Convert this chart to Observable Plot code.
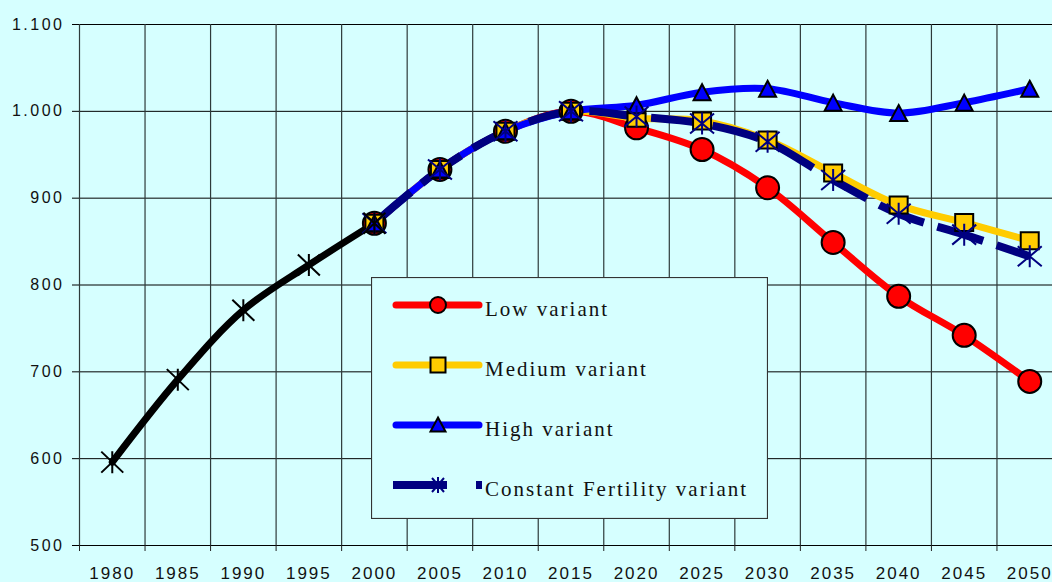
<!DOCTYPE html>
<html><head><meta charset="utf-8">
<script src="https://cdn.jsdelivr.net/npm/d3@7"></script>
<script src="https://cdn.jsdelivr.net/npm/@observablehq/plot@0.6"></script>
<style>
html,body{margin:0;padding:0;background:#d6ffff;overflow:hidden;width:1052px;height:582px}
#chart{position:absolute;left:0;top:0;width:1062px}
#chart svg{max-width:none !important;width:1062px;height:582px}
#legend{position:absolute;left:371px;top:277px}
g[aria-label="y-axis tick label"] text{letter-spacing:2.5px;font-size:16px}
g[aria-label="x-axis tick label"] text{letter-spacing:2px;font-size:17px}
</style></head><body>
<div id="chart"></div>
<svg id="legend" width="397" height="242"></svg>
<script>
// ---- data ----
const years = [1980,1985,1990,1995,2000,2005,2010,2015,2020,2025,2030,2035,2040,2045,2050];
const historicYears = [1980,1985,1990,1995,2000];
const historic = [596,691,771,823,871];
const projYears = [2000,2005,2010,2015,2020,2025,2030,2035,2040,2045,2050];
const lowVariant = [871,933,977,1000,981,956,912,849,787,742,689];
const mediumVariant = [871,933,977,1000,992,989,967,929,892,872,851];
const highVariant = [871,933,977,1000,1007,1022,1026,1010,998,1010,1026];
const constantVariant = [871,933,977,1000,994,986,965,921,882,858,833];
const yTicks = [500,600,700,800,900,1000,1100];
const seriesNames = ["Low variant","Medium variant","High variant","Constant Fertility variant"];

const colors = {low:"#ff0000", medium:"#ffcc00", high:"#0000ff", constant:"#000080", hist:"#000000"};
const bg = "#d6ffff";

// x category boundaries (grid lines)
const boundaries = years.map(y => y - 2.5);

const hist = historicYears.map((x,i)=>({x, y:historic[i]}));
const mk = arr => projYears.map((x,i)=>({x, y:arr[i]}));
const low = mk(lowVariant), med = mk(mediumVariant), high = mk(highVariant), cons = mk(constantVariant);

// custom symbols
const starSym = (hx, hy, hv) => ({draw(ctx){ctx.moveTo(-hx,-hy);ctx.lineTo(hx,hy);ctx.moveTo(-hx,hy);ctx.lineTo(hx,-hy);ctx.moveTo(0,-hv);ctx.lineTo(0,hv);}});
const squareSym = {draw(ctx){ctx.moveTo(-9,-8.5);ctx.lineTo(9,-8.5);ctx.lineTo(9,8.5);ctx.lineTo(-9,8.5);ctx.closePath();}};
const triSym = {draw(ctx){ctx.moveTo(0,-8);ctx.lineTo(8.5,8);ctx.lineTo(-8.5,8);ctx.closePath();}};
const histStar = starSym(11,10.5,11);
const consStar = starSym(12,10,11);

const fmtY = d => d >= 1000 ? d3.format(",")(d).replace(",", ".") : String(d);

const chart = Plot.plot({
  width: 1062, height: 582,
  marginLeft: 79, marginRight: 0, marginTop: 24, marginBottom: 37,
  x: {type: "linear", domain: [1977.5, 2052.5]},
  y: {domain: [500, 1100]},
  style: {background: "transparent", fontFamily: "'Liberation Sans', Arial, sans-serif", fontSize: "16px", color: "#111", overflow: "visible", maxWidth: "none"},
  marks: [
    Plot.gridY(yTicks, {stroke: "#000", strokeOpacity: 1, strokeWidth: 1}),
    Plot.gridX(boundaries, {stroke: "#2e3a3a", strokeOpacity: 1, strokeWidth: 1.2}),
    Plot.axisY(yTicks, {tickSize: 7, tickPadding: 8, tickFormat: fmtY, label: null, stroke: "#000"}),
    Plot.axisX(boundaries, {tickSize: 6, tickFormat: () => "", label: null, stroke: "#222"}),
    Plot.axisX(years, {tickSize: 0, tickPadding: 21, tickFormat: d3.format("d"), label: null}),
    Plot.line(hist, {x: "x", y: "y", stroke: colors.hist, strokeWidth: 7, curve: "catmull-rom"}),
    Plot.line(low, {x: "x", y: "y", stroke: colors.low, strokeWidth: 7, curve: "catmull-rom"}),
    Plot.line(med, {x: "x", y: "y", stroke: colors.medium, strokeWidth: 7, curve: "catmull-rom"}),
    Plot.line(high, {x: "x", y: "y", stroke: colors.high, strokeWidth: 7, curve: "catmull-rom"}),
    Plot.line(cons, {x: "x", y: "y", stroke: colors.constant, strokeWidth: 8, strokeLinecap: "butt", strokeDasharray: "48,14", curve: "catmull-rom"}),
    Plot.dot(low, {x: "x", y: "y", r: 11.5, fill: colors.low, stroke: "#000", strokeWidth: 2}),
    Plot.dot(med, {x: "x", y: "y", symbol: squareSym, r: 9, fill: colors.medium, stroke: "#000", strokeWidth: 2}),
    Plot.dot(high, {x: "x", y: "y", symbol: triSym, r: 9, fill: colors.high, stroke: "#000", strokeWidth: 2}),
    Plot.dot(cons, {x: "x", y: "y", symbol: consStar, r: 11, fill: "none", stroke: colors.constant, strokeWidth: 2}),
    Plot.dot(hist, {x: "x", y: "y", symbol: histStar, r: 11, fill: "none", stroke: "#000", strokeWidth: 2})
  ]
});
document.getElementById("chart").append(chart);

// ---- legend ----
const lg = d3.select("#legend");
lg.append("rect").attr("x", 0.5).attr("y", 0.5).attr("width", 396).attr("height", 241)
  .attr("fill", bg).attr("stroke", "#333").attr("stroke-width", 1.2);
const rowsY = [28, 88, 148, 208];
const legendSpec = [
  {name: seriesNames[0], color: colors.low, shape: "circle"},
  {name: seriesNames[1], color: colors.medium, shape: "square"},
  {name: seriesNames[2], color: colors.high, shape: "triangle"},
  {name: seriesNames[3], color: colors.constant, shape: "star"}
];
const pathOf = sym => { const p = d3.path(); sym.draw(p); return p.toString(); };
legendSpec.forEach((s, i) => {
  const cy = rowsY[i];
  const g = lg.append("g");
  if (s.shape === "star") {
    g.append("line").attr("x1", 22).attr("x2", 111).attr("y1", cy).attr("y2", cy)
      .attr("stroke", s.color).attr("stroke-width", 8).attr("stroke-dasharray", "54,29");
    g.append("path").attr("d", pathOf(starSym(6,7,8))).attr("transform", `translate(67,${cy})`)
      .attr("fill", "none").attr("stroke", s.color).attr("stroke-width", 2);
  } else {
    g.append("line").attr("x1", 25).attr("x2", 108).attr("y1", cy).attr("y2", cy)
      .attr("stroke", s.color).attr("stroke-width", 7).attr("stroke-linecap", "round");
    if (s.shape === "circle") {
      g.append("circle").attr("cx", 67).attr("cy", cy).attr("r", 8)
        .attr("fill", s.color).attr("stroke", "#000").attr("stroke-width", 2);
    } else if (s.shape === "square") {
      g.append("rect").attr("x", 59.5).attr("y", cy - 7.5).attr("width", 15).attr("height", 15)
        .attr("fill", s.color).attr("stroke", "#000").attr("stroke-width", 2);
    } else {
      g.append("path").attr("d", "M0,-7.5L7.5,6.5L-7.5,6.5Z").attr("transform", `translate(67,${cy})`)
        .attr("fill", s.color).attr("stroke", "#000").attr("stroke-width", 2);
    }
  }
  g.append("text").attr("x", 114).attr("y", cy + 11).text(s.name)
    .attr("font-family", "'Liberation Serif', 'Times New Roman', serif")
    .attr("font-size", 21).attr("letter-spacing", "2px").attr("fill", "#111");
});
</script>
</body></html>
